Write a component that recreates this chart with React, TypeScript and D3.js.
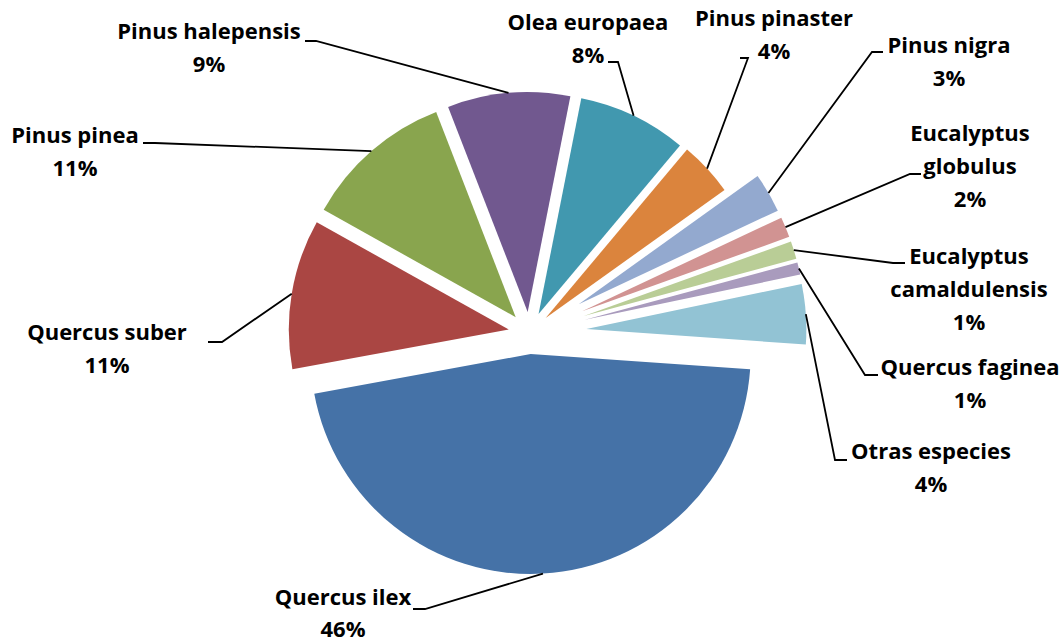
import React from "react";
import * as d3 from "d3";

// Especies (orden de la hoja, sentido horario)
const species = [
  "Quercus ilex",
  "Quercus suber",
  "Pinus pinea",
  "Pinus halepensis",
  "Olea europaea",
  "Pinus pinaster",
  "Pinus nigra",
  "Eucalyptus globulus",
  "Eucalyptus camaldulensis",
  "Quercus faginea",
  "Otras especies",
];
const shares = [46, 11, 11, 9, 8, 4, 2.9, 1.5, 1.3, 0.9, 4.4];

const colors = [
  "#4572A7", "#AA4643", "#89A54E", "#71588F", "#4198AF", "#DB843D",
  "#93A9CF", "#D19392", "#B9CD96", "#A99BBD", "#92C3D4",
];

const W = 1063;
const H = 644;
const cx = 529.5;
const cy = 333;
const R = 220;
const startDeg = 94;
// how far each slice is pulled out from the centre
const explode = [21, 21, 21, 21, 21, 22, 57, 57, 57, 57, 57];

// label placement: text centre x, first baseline, leader elbow + end
const labelLayout: { x: number; y: number; gap?: number; wrap?: boolean; elbow: [number, number]; end: [number, number] }[] = [
  { x: 343, y: 605, gap: 32, elbow: [425, 609], end: [413, 609] },
  { x: 107, y: 340, elbow: [222, 342], end: [208, 342] },
  { x: 75, y: 143, elbow: [155, 143], end: [143, 143] },
  { x: 209, y: 39, elbow: [316, 41], end: [305, 41] },
  { x: 588, y: 30, elbow: [618, 62], end: [608, 62] },
  { x: 774, y: 26, elbow: [748, 58], end: [740, 58] },
  { x: 949, y: 53, elbow: [872, 52], end: [883, 52] },
  { x: 970, y: 141, wrap: true, elbow: [910, 174], end: [921, 174] },
  { x: 969, y: 264, wrap: true, elbow: [893, 263], end: [905, 263] },
  { x: 970, y: 375, elbow: [865, 375], end: [878, 375] },
  { x: 931, y: 459, elbow: [835, 460], end: [847, 460] },
];

const LINE_H = 33;

export default function App() {
  const rows = species.map((name, i) => ({ name, value: shares[i], i }));
  const pie = d3
    .pie<any>()
    .sort(null)
    .value((d) => d.value)
    .startAngle((startDeg * Math.PI) / 180)
    .endAngle((startDeg * Math.PI) / 180 + 2 * Math.PI);
  const arcs = pie(rows);
  const arc = d3.arc<any>().innerRadius(0).outerRadius(R);
  const rim = d3.arc<any>().innerRadius(R).outerRadius(R);
  const pct = (v: number) => `${Math.round(v)}%`;

  return (
    <svg
      width={W}
      height={H}
      style={{ position: "absolute", left: 0, top: 0, background: "#fff" }}
      fontFamily="'Open Sans', sans-serif"
    >
      <g transform={`translate(${cx},${cy})`}>
        {arcs.map((a, k) => {
          const mid = (a.startAngle + a.endAngle) / 2;
          const dx = Math.sin(mid) * explode[k];
          const dy = -Math.cos(mid) * explode[k];
          return (
            <path
              key={k}
              d={arc(a) as string}
              fill={colors[k]}
              transform={`translate(${dx},${dy})`}
            />
          );
        })}
      </g>
      {arcs.map((a, k) => {
        const mid = (a.startAngle + a.endAngle) / 2;
        const [rx, ry] = rim.centroid(a);
        const px = cx + rx + Math.sin(mid) * explode[k];
        const py = cy + ry - Math.cos(mid) * explode[k];
        const L = labelLayout[k];
        const pts: [number, number][] = [[px, py], L.elbow, L.end];
        return (
          <path
            key={k}
            d={d3.line()(pts) as string}
            fill="none"
            stroke="#000"
            strokeWidth={1.8}
          />
        );
      })}
      {arcs.map((a, k) => {
        const L = labelLayout[k];
        const name = a.data.name as string;
        const parts = L.wrap
          ? [name.slice(0, name.indexOf(" ")), name.slice(name.indexOf(" ") + 1)]
          : [name];
        const lines = [...parts, pct(a.data.value)];
        const gap = L.gap ?? LINE_H;
        return (
          <text
            key={k}
            x={L.x}
            y={L.y}
            textAnchor="middle"
            fontSize={22}
            fontWeight={700}
            fill="#000"
          >
            {lines.map((t, j) => (
              <tspan key={j} x={L.x} y={L.y + j * gap}>
                {t}
              </tspan>
            ))}
          </text>
        );
      })}
    </svg>
  );
}
